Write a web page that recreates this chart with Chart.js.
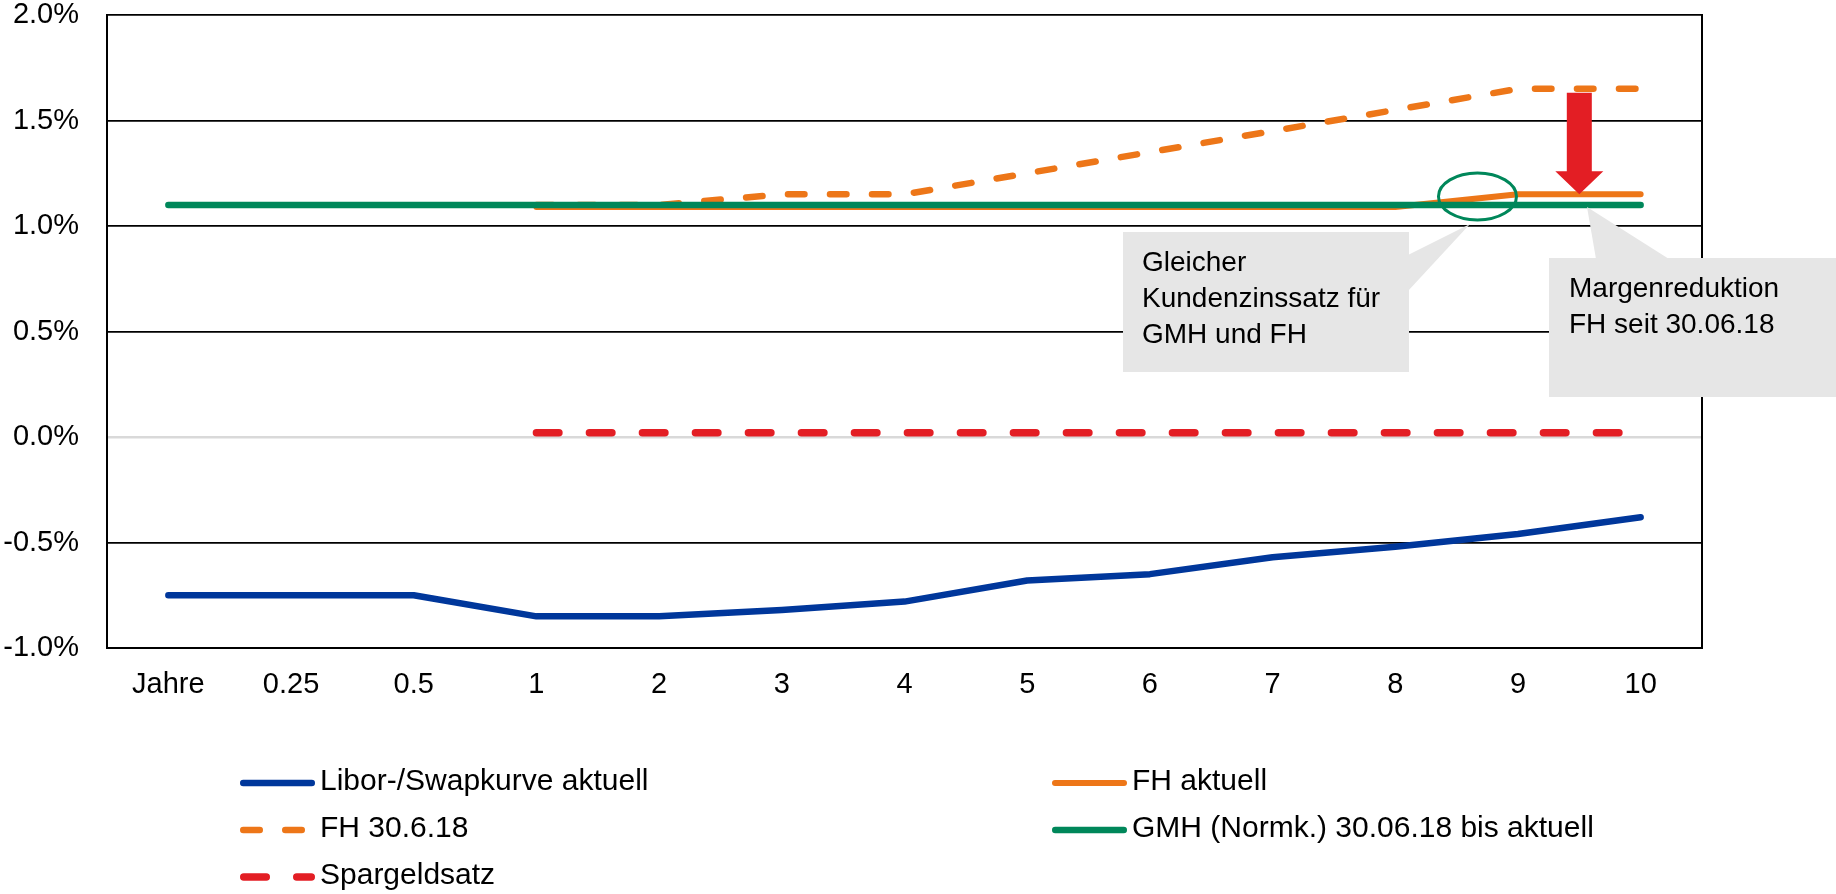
<!DOCTYPE html>
<html>
<head>
<meta charset="utf-8">
<script src="https://cdn.jsdelivr.net/npm/chart.js@4.4.1/dist/chart.umd.min.js"></script>
<style>
  html, body { margin: 0; padding: 0; background: #ffffff; }
  #wrap { width: 1836px; height: 894px; position: relative; }
  canvas { display: block; }
</style>
</head>
<body>
<div id="wrap"><canvas id="chart" width="1836" height="894"></canvas></div>
<script>
// ---------- data ----------
const categories = ['Jahre', '0.25', '0.5', '1', '2', '3', '4', '5', '6', '7', '8', '9', '10'];
const liborSwapAktuell = [-0.75, -0.75, -0.75, -0.85, -0.85, -0.82, -0.78, -0.68, -0.65, -0.57, -0.52, -0.46, -0.38];
const fhAktuell        = [null, null, null, 1.09, 1.09, 1.09, 1.09, 1.09, 1.09, 1.09, 1.09, 1.15, 1.15];
const fh300618         = [null, null, null, 1.10, 1.10, 1.15, 1.15, 1.25, 1.35, 1.45, 1.55, 1.65, 1.65];
const gmhNormk         = [1.10, 1.10, 1.10, 1.10, 1.10, 1.10, 1.10, 1.10, 1.10, 1.10, 1.10, 1.10, 1.10];
const spargeldsatz     = [null, null, null, 0.02, 0.02, 0.02, 0.02, 0.02, 0.02, 0.02, 0.02, 0.02, 0.02];
const seriesNames = ['Libor-/Swapkurve aktuell', 'FH aktuell', 'FH 30.6.18', 'GMH (Normk.) 30.06.18 bis aktuell', 'Spargeldsatz'];
const yMin = -1.0, yMax = 2.0, yStep = 0.5;
const annotationTexts = {
  circleNote: ['Gleicher', 'Kundenzinssatz für', 'GMH und FH'],
  arrowNote: ['Margenreduktion', 'FH seit 30.06.18']
};

// ---------- styles ----------
const FONT = "'Liberation Sans', Arial, Helvetica, sans-serif";
const C = { blue: '#00379b', orange: '#ed7618', green: '#00875a', red: '#e31e24', box: '#e6e6e6', zero: '#d9d9d9' };
const target = { left: 107, top: 15, right: 1702, bottom: 648 };

const datasets = [
  { label: seriesNames[0], data: liborSwapAktuell, borderColor: C.blue, borderWidth: 6.5, order: 1 },
  { label: seriesNames[1], data: fhAktuell, borderColor: C.orange, borderWidth: 6, order: 3 },
  { label: seriesNames[2], data: fh300618, borderColor: C.orange, borderWidth: 6.5, borderDash: [16.5, 25.5], order: 4 },
  { label: seriesNames[3], data: gmhNormk, borderColor: C.green, borderWidth: 6.5, order: 0 },
  { label: seriesNames[4], data: spargeldsatz, borderColor: C.red, borderWidth: 7.5, borderDash: [22.5, 30.5], order: 2 }
].map(d => Object.assign({
  fill: false, tension: 0, pointRadius: 0, pointHoverRadius: 0,
  borderCapStyle: 'round', borderJoinStyle: 'round', spanGaps: false
}, d));

// legend layout (row-major, two columns)
const legendLayout = { cols: [240, 1052], rows: [783, 830, 877], markerLen: 75, textGap: 5, fontSize: 30 };

const decorPlugin = {
  id: 'decor',
  beforeDatasetsDraw(chart) {
    const { ctx, chartArea: a } = chart;
    ctx.save();
    ctx.strokeStyle = '#000';
    ctx.lineWidth = 2;
    ctx.beginPath();
    ctx.moveTo(a.right, a.top - 1);
    ctx.lineTo(a.right, a.bottom + 1);
    ctx.stroke();
    ctx.restore();
  },
  afterDatasetsDraw(chart) {
    const { ctx } = chart;
    const xs = chart.scales.x, ys = chart.scales.y;
    ctx.save();

    // callout boxes with pointers
    ctx.fillStyle = C.box;
    ctx.fillRect(1123, 232, 286, 140);
    ctx.beginPath();
    ctx.moveTo(1408, 255); ctx.lineTo(1470, 224); ctx.lineTo(1408, 291); ctx.closePath(); ctx.fill();
    ctx.fillRect(1549, 258, 287, 139);
    ctx.beginPath();
    ctx.moveTo(1596, 259); ctx.lineTo(1587, 207); ctx.lineTo(1669, 259); ctx.closePath(); ctx.fill();

    ctx.fillStyle = '#000';
    ctx.font = '28px ' + FONT;
    ctx.textBaseline = 'alphabetic';
    ctx.textAlign = 'left';
    const b1 = [271, 307, 343];
    annotationTexts.circleNote.forEach((t, i) => ctx.fillText(t, 1142, b1[i]));
    const b2 = [297, 333];
    annotationTexts.arrowNote.forEach((t, i) => ctx.fillText(t, 1569, b2[i]));

    // green ellipse around the point where FH meets GMH
    const ex = xs.getPixelForValue(10.67);
    const ey = ys.getPixelForValue(1.14);
    ctx.strokeStyle = C.green;
    ctx.lineWidth = 3;
    ctx.beginPath();
    ctx.ellipse(ex, ey, 39, 23.5, 0, 0, Math.PI * 2);
    ctx.stroke();

    // red arrow: margin reduction from FH 30.6.18 to FH aktuell
    const ax = xs.getPixelForValue(11.5);
    const aTop = ys.getPixelForValue(fh300618[12]) + 4;
    const aTip = ys.getPixelForValue(fhAktuell[12]);
    const headH = 23, shaftHalf = 12.5, headHalf = 24;
    ctx.fillStyle = C.red;
    ctx.beginPath();
    ctx.moveTo(ax - shaftHalf, aTop);
    ctx.lineTo(ax + shaftHalf, aTop);
    ctx.lineTo(ax + shaftHalf, aTip - headH);
    ctx.lineTo(ax + headHalf, aTip - headH);
    ctx.lineTo(ax, aTip);
    ctx.lineTo(ax - headHalf, aTip - headH);
    ctx.lineTo(ax - shaftHalf, aTip - headH);
    ctx.closePath();
    ctx.fill();

    // custom legend
    ctx.font = legendLayout.fontSize + 'px ' + FONT;
    ctx.textBaseline = 'middle';
    chart.data.datasets.forEach((ds, i) => {
      const col = i % 2, row = Math.floor(i / 2);
      const x0 = legendLayout.cols[col];
      const y = legendLayout.rows[row];
      const w = ds.borderWidth;
      ctx.strokeStyle = ds.borderColor;
      ctx.lineWidth = w;
      ctx.lineCap = 'round';
      ctx.setLineDash(ds.borderDash || []);
      ctx.beginPath();
      ctx.moveTo(x0 + w / 2, y);
      ctx.lineTo(x0 + legendLayout.markerLen - w / 2, y);
      ctx.stroke();
      ctx.setLineDash([]);
      ctx.fillStyle = '#000';
      ctx.fillText(ds.label, x0 + legendLayout.markerLen + legendLayout.textGap, y - 1);
    });
    ctx.restore();
  }
};

const chart = new Chart(document.getElementById('chart'), {
  type: 'line',
  data: { labels: categories, datasets },
  options: {
    responsive: false,
    devicePixelRatio: 1,
    animation: false,
    events: [],
    layout: { autoPadding: false, padding: { top: target.top, right: 1836 - target.right, left: 0, bottom: 0 } },
    plugins: { legend: { display: false }, tooltip: { enabled: false } },
    scales: {
      x: {
        type: 'category',
        offset: true,
        grid: { display: false, drawTicks: false },
        border: { display: true, color: '#000', width: 2 },
        ticks: {
          color: '#000', font: { family: FONT, size: 29 }, padding: 20,
          maxRotation: 0, minRotation: 0, autoSkip: false
        },
        afterFit(s) { s.height = 894 - target.bottom; }
      },
      y: {
        min: yMin, max: yMax,
        grid: {
          drawTicks: true,
          tickLength: 28,
          tickColor: 'rgba(0,0,0,0)',
          color: c => (c.tick && c.tick.value === 0 ? C.zero : '#000'),
          lineWidth: c => (c.tick && c.tick.value === 0 ? 2.6 : 1.7)
        },
        border: { display: true, color: '#000', width: 2 },
        ticks: {
          stepSize: yStep, color: '#000', font: { family: FONT, size: 29, lineHeight: 1 }, padding: 0,
          callback: v => v.toFixed(1) + '%'
        },
        afterFit(s) { s.width = target.left; }
      }
    }
  },
  plugins: [decorPlugin]
});

// nudge the layout padding (in the raw config) so the plot area lands where the reference has it
for (let k = 0; k < 4; k++) {
  const a = chart.chartArea;
  const p = chart.config.options.layout.padding;
  const dTop = a.top - target.top, dRight = a.right - target.right;
  if (Math.abs(dTop) < 0.5 && Math.abs(dRight) < 0.5) break;
  p.top -= dTop;
  p.right += dRight;
  chart.update();
}
</script>
</body>
</html>
